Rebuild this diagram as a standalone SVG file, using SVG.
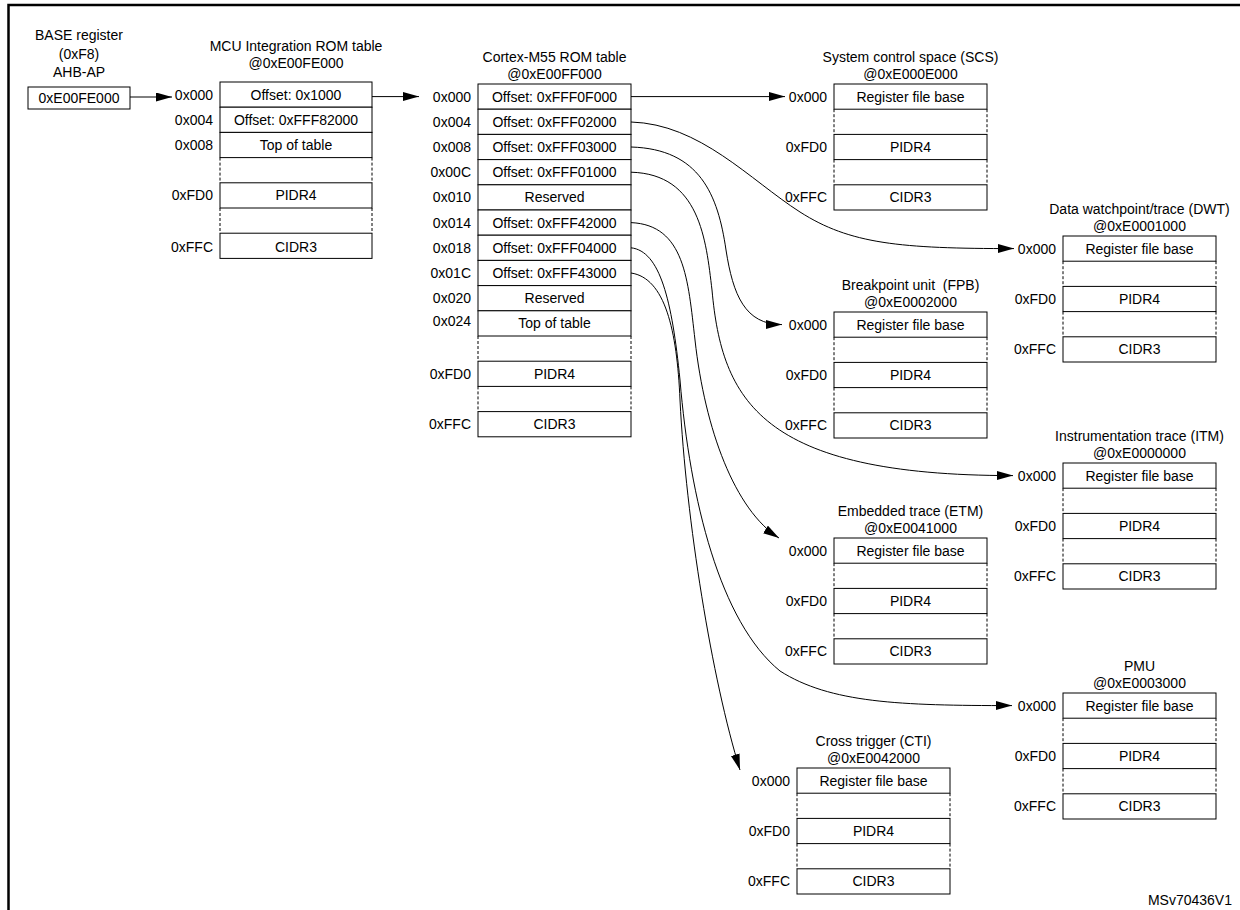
<svg xmlns="http://www.w3.org/2000/svg" width="1240" height="910" viewBox="0 0 1240 910">
<style>
.t{font-family:"Liberation Sans",Arial,sans-serif;font-size:14px;fill:#000}
.c{text-anchor:middle}
.r{text-anchor:end}
.box{fill:#fff;stroke:#000;stroke-width:1}
.dash{stroke:#000;stroke-width:1;stroke-dasharray:3 2}
.conn{fill:none;stroke:#000;stroke-width:1}
.frame{stroke:#000;stroke-width:2.5;fill:none}
</style>
<defs>
<marker id="ah" markerUnits="userSpaceOnUse" markerWidth="17" markerHeight="10" refX="16" refY="4.5" orient="auto">
<path d="M0,0 L16,4.5 L0,9 z" fill="#000"/>
</marker>
<g id="comp">
<rect class="box" x="0" y="0" width="153" height="25.2"/>
<line class="dash" x1="0" y1="25.2" x2="0" y2="50.4"/><line class="dash" x1="153" y1="25.2" x2="153" y2="50.4"/>
<rect class="box" x="0" y="50.4" width="153" height="25.2"/>
<line class="dash" x1="0" y1="75.6" x2="0" y2="100.8"/><line class="dash" x1="153" y1="75.6" x2="153" y2="100.8"/>
<rect class="box" x="0" y="100.8" width="153" height="25.2"/>
<text class="t c" x="76.5" y="17.6">Register file base</text>
<text class="t c" x="76.5" y="68">PIDR4</text>
<text class="t c" x="76.5" y="118.4">CIDR3</text>
<text class="t r" x="-7" y="17.6">0x000</text>
<text class="t r" x="-7" y="68">0xFD0</text>
<text class="t r" x="-7" y="118.4">0xFFC</text>
</g>
</defs>
<rect width="1240" height="910" fill="#fff"/>
<path class="frame" d="M8.5,910 L8.5,5 L1240,5"/>

<g id="base">
<text class="t c" x="79" y="40">BASE register</text>
<text class="t c" x="79" y="58.5">(0xF8)</text>
<text class="t c" x="79" y="77">AHB-AP</text>
<rect class="box" x="28" y="87" width="102" height="22"/>
<text class="t c" x="79" y="103">0xE00FE000</text>
</g>

<g id="mcu" transform="translate(220,82)">
<text class="t c" x="76" y="-31">MCU Integration ROM table</text>
<text class="t c" x="76" y="-14">@0xE00FE000</text>
<rect class="box" x="0" y="0" width="152" height="25.2"/>
<rect class="box" x="0" y="25.2" width="152" height="25.2"/>
<rect class="box" x="0" y="50.4" width="152" height="25.2"/>
<line class="dash" x1="0" y1="75.6" x2="0" y2="100.8"/><line class="dash" x1="152" y1="75.6" x2="152" y2="100.8"/>
<rect class="box" x="0" y="100.8" width="152" height="25.2"/>
<line class="dash" x1="0" y1="126" x2="0" y2="151.2"/><line class="dash" x1="152" y1="126" x2="152" y2="151.2"/>
<rect class="box" x="0" y="151.2" width="152" height="25.2"/>
<text class="t c" x="76" y="17.6">Offset: 0x1000</text>
<text class="t c" x="76" y="42.8">Offset: 0xFFF82000</text>
<text class="t c" x="76" y="68">Top of table</text>
<text class="t c" x="76" y="118.4">PIDR4</text>
<text class="t c" x="76" y="169.6">CIDR3</text>
<text class="t r" x="-7" y="17.6">0x000</text>
<text class="t r" x="-7" y="42.8">0x004</text>
<text class="t r" x="-7" y="68">0x008</text>
<text class="t r" x="-7" y="118.4">0xFD0</text>
<text class="t r" x="-7" y="169.6">0xFFC</text>
</g>

<g id="cortex" transform="translate(478,84)">
<text class="t c" x="76.5" y="-22">Cortex-M55 ROM table</text>
<text class="t c" x="76.5" y="-5">@0xE00FF000</text>
<rect class="box" x="0" y="0" width="153" height="25.2"/>
<rect class="box" x="0" y="25.2" width="153" height="25.2"/>
<rect class="box" x="0" y="50.4" width="153" height="25.2"/>
<rect class="box" x="0" y="75.6" width="153" height="25.2"/>
<rect class="box" x="0" y="100.8" width="153" height="25.2"/>
<rect class="box" x="0" y="126" width="153" height="25.2"/>
<rect class="box" x="0" y="151.2" width="153" height="25.2"/>
<rect class="box" x="0" y="176.4" width="153" height="25.2"/>
<rect class="box" x="0" y="201.6" width="153" height="25.2"/>
<rect class="box" x="0" y="226.8" width="153" height="25.2"/>
<line class="dash" x1="0" y1="252" x2="0" y2="277.2"/><line class="dash" x1="153" y1="252" x2="153" y2="277.2"/>
<rect class="box" x="0" y="277.2" width="153" height="25.2"/>
<line class="dash" x1="0" y1="302.4" x2="0" y2="327.6"/><line class="dash" x1="153" y1="302.4" x2="153" y2="327.6"/>
<rect class="box" x="0" y="327.6" width="153" height="25.2"/>
<text class="t c" x="76.5" y="17.6">Offset: 0xFFF0F000</text>
<text class="t c" x="76.5" y="42.8">Offset: 0xFFF02000</text>
<text class="t c" x="76.5" y="68">Offset: 0xFFF03000</text>
<text class="t c" x="76.5" y="93.2">Offset: 0xFFF01000</text>
<text class="t c" x="76.5" y="118.4">Reserved</text>
<text class="t c" x="76.5" y="143.6">Offset: 0xFFF42000</text>
<text class="t c" x="76.5" y="168.8">Offset: 0xFFF04000</text>
<text class="t c" x="76.5" y="194">Offset: 0xFFF43000</text>
<text class="t c" x="76.5" y="219.2">Reserved</text>
<text class="t c" x="76.5" y="244.4">Top of table</text>
<text class="t c" x="76.5" y="294.8">PIDR4</text>
<text class="t c" x="76.5" y="345.2">CIDR3</text>
<text class="t r" x="-7" y="17.6">0x000</text>
<text class="t r" x="-7" y="42.8">0x004</text>
<text class="t r" x="-7" y="68">0x008</text>
<text class="t r" x="-7" y="93.2">0x00C</text>
<text class="t r" x="-7" y="118.4">0x010</text>
<text class="t r" x="-7" y="143.6">0x014</text>
<text class="t r" x="-7" y="168.8">0x018</text>
<text class="t r" x="-7" y="194">0x01C</text>
<text class="t r" x="-7" y="219.2">0x020</text>
<text class="t r" x="-7" y="242.4">0x024</text>
<text class="t r" x="-7" y="294.8">0xFD0</text>
<text class="t r" x="-7" y="345.2">0xFFC</text>
</g>

<g id="scs" transform="translate(834,84)">
<text class="t c" x="76.5" y="-22">System control space (SCS)</text>
<text class="t c" x="76.5" y="-5">@0xE000E000</text>
<use href="#comp"/>
</g>
<g id="dwt" transform="translate(1063,236)">
<text class="t c" x="76.5" y="-22">Data watchpoint/trace (DWT)</text>
<text class="t c" x="76.5" y="-5">@0xE0001000</text>
<use href="#comp"/>
</g>
<g id="fpb" transform="translate(834,312)">
<text class="t c" x="76.5" y="-22" style="white-space:pre">Breakpoint unit  (FPB)</text>
<text class="t c" x="76.5" y="-5">@0xE0002000</text>
<use href="#comp"/>
</g>
<g id="itm" transform="translate(1063,463)">
<text class="t c" x="76.5" y="-22">Instrumentation trace (ITM)</text>
<text class="t c" x="76.5" y="-5">@0xE0000000</text>
<use href="#comp"/>
</g>
<g id="etm" transform="translate(834,538)">
<text class="t c" x="76.5" y="-22">Embedded trace (ETM)</text>
<text class="t c" x="76.5" y="-5">@0xE0041000</text>
<use href="#comp"/>
</g>
<g id="pmu" transform="translate(1063,693)">
<text class="t c" x="76.5" y="-22">PMU</text>
<text class="t c" x="76.5" y="-5">@0xE0003000</text>
<use href="#comp"/>
</g>
<g id="cti" transform="translate(797,768)">
<text class="t c" x="76.5" y="-22">Cross trigger (CTI)</text>
<text class="t c" x="76.5" y="-5">@0xE0042000</text>
<use href="#comp"/>
</g>

<g id="connectors">
<path class="conn" d="M130,97 L172,97" marker-end="url(#ah)"/>
<path class="conn" d="M372,96.6 L419,96.6" marker-end="url(#ah)"/>
<path class="conn" d="M631,96.6 L785,96.6" marker-end="url(#ah)"/>
<path class="conn" d="M631,122 C700,124 750,180 800,212 S900,248.6 1014,248.6" marker-end="url(#ah)"/>
<path class="conn" d="M631,147 C700,149 718,195 726,250 C733,295 745,324.6 782,324.6" marker-end="url(#ah)"/>
<path class="conn" d="M631,172.2 C700,174 706,240 712,290 C722,400 760,475.6 1013,475.6" marker-end="url(#ah)"/>
<path class="conn" d="M631,222.6 C685,225 688,280 695,340 C705,430 735,510 779,538" marker-end="url(#ah)"/>
<path class="conn" d="M631,247.8 C660,251 672,300 680,380 C690,500 720,622 780,671 C830,703 900,705.6 1012,705.6" marker-end="url(#ah)"/>
<path class="conn" d="M631,273 C665,278 677,330 680,400 C686,520 712,680 740,770" marker-end="url(#ah)"/>
</g>

<text class="t r" x="1232" y="905">MSv70436V1</text>
</svg>
